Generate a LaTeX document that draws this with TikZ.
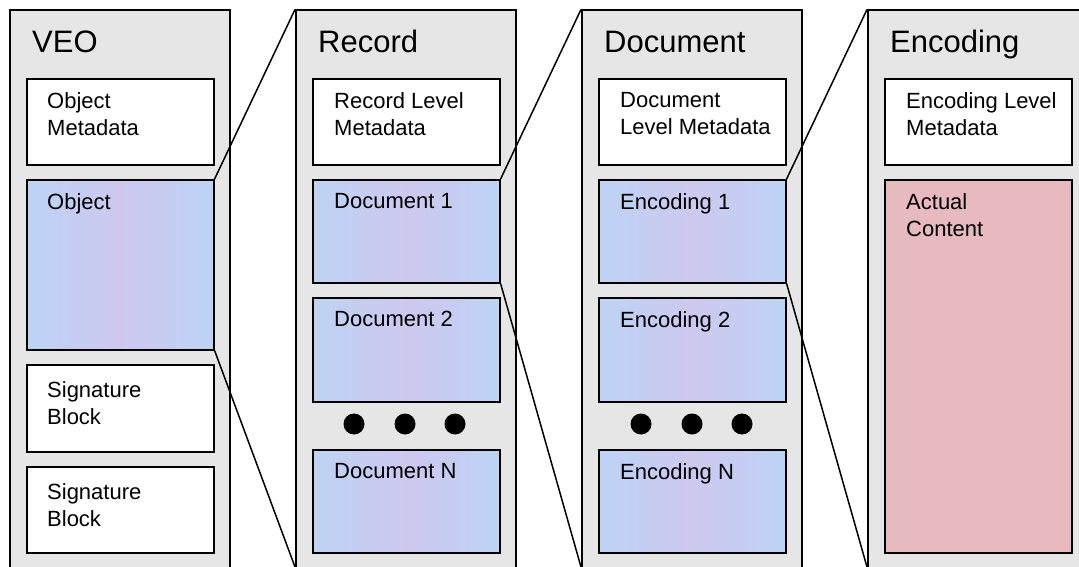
\documentclass[tikz,border=0pt]{standalone}
\usepackage{fontspec}
\setmainfont{Liberation Sans}
\definecolor{panelgray}{HTML}{E6E6E6}
\definecolor{blueA}{HTML}{BDD3F4}
\definecolor{blueB}{HTML}{CEC8EF}
\definecolor{pinkfill}{HTML}{E7BAC0}
\begin{document}
\begin{tikzpicture}[x=1pt,y=-1pt,
  panel/.style={rectangle, draw=black, line width=1.6pt, fill=panelgray, anchor=north west,
    minimum width=220pt, minimum height=600pt, inner sep=0pt},
  boxbase/.style={rectangle, draw=black, line width=1.6pt, anchor=north west,
    minimum width=187pt, inner sep=0pt},
  whitebox/.style={boxbase, fill=white},
  bluebox/.style={boxbase, left color=blueA, right color=blueA, middle color=blueB},
  pinkbox/.style={boxbase, fill=pinkfill},
  title/.style={anchor=base west, inner sep=0pt, font=\fontsize{31}{36}\selectfont},
  itemtext/.style={anchor=north west, inner sep=0pt, align=left, font=\fontsize{22}{27}\selectfont},
  dot/.style={circle, fill=black, draw=none, minimum size=21pt, inner sep=0pt},
  link/.style={draw=black, line width=1.5pt}
]
\useasboundingbox (0,0) rectangle (1079,567);
\fill[white] (0,0) rectangle (1079,567);
\clip (0,0) rectangle (1079,567);

% ---------- panels ----------
\node[panel] (veo) at (9,9.5) {};
\node[panel] (rec) at (295,9.5) {};
\node[panel] (doc) at (581,9.5) {};
\node[panel] (enc) at (867,9.5) {};

\node[title] (veoT) at (32,53) {VEO};
\node[title] (recT) at (318,53) {Record};
\node[title] (docT) at (604,53) {Document};
\node[title] (encT) at (890,53) {Encoding};

% ---------- VEO ----------
\node[whitebox, minimum height=86pt] (objmeta) at (26,78) {};
\node[bluebox, minimum height=170pt] (obj) at (26,179) {};
\node[whitebox, minimum height=87pt] (sig1) at (26,364) {};
\node[whitebox, minimum height=86pt] (sig2) at (26,466) {};
\node[itemtext] (objmetaT) at (47,92) {Object\\Metadata};
\node[itemtext] (objT) at (47,193) {Object};
\node[itemtext] (sig1T) at (47,381) {Signature\\Block};
\node[itemtext] (sig2T) at (47,483) {Signature\\Block};

% ---------- Record ----------
\node[whitebox, minimum height=86pt] (recmeta) at (312,78) {};
\node[bluebox, minimum height=103pt] (doc1) at (312,179) {};
\node[bluebox, minimum height=104pt] (doc2) at (312,297) {};
\node[bluebox, minimum height=103pt] (docN) at (312,449) {};
\node[itemtext] (recmetaT) at (334,92) {Record Level\\Metadata};
\node[itemtext] (doc1T) at (334,193) {Document 1};
\node[itemtext] (doc2T) at (334,311) {Document 2};
\node[itemtext] (docNT) at (334,463) {Document N};
\node[dot] (rd1) at (354,424) {};
\node[dot] (rd2) at (405,424) {};
\node[dot] (rd3) at (455,424) {};

% ---------- Document ----------
\node[whitebox, minimum height=86pt] (docmeta) at (598,78) {};
\node[bluebox, minimum height=103pt] (enc1) at (598,179) {};
\node[bluebox, minimum height=104pt] (enc2) at (598,297) {};
\node[bluebox, minimum height=103pt] (encN) at (598,449) {};
\node[itemtext] (docmetaT) at (620,92) {Document\\Level Metadata};
\node[itemtext] (enc1T) at (620,193) {Encoding 1};
\node[itemtext] (enc2T) at (620,311) {Encoding 2};
\node[itemtext] (encNT) at (620,463) {Encoding N};
\node[dot] (dd1) at (641,424) {};
\node[dot] (dd2) at (692,424) {};
\node[dot] (dd3) at (742,424) {};

% ---------- Encoding ----------
\node[whitebox, minimum height=86pt] (encmeta) at (884,78) {};
\node[pinkbox, minimum height=373pt] (content) at (884,179) {};
\node[itemtext] (encmetaT) at (906,92) {Encoding Level\\Metadata};
\node[itemtext] (contentT) at (906,193) {Actual\\Content};

% ---------- zoom connectors ----------
\path (rec.north west) ++(0,557.5) coordinate (recB);
\path (doc.north west) ++(0,557.5) coordinate (docB);
\path (enc.north west) ++(0,557.5) coordinate (encB);

\draw[link] (obj.north east) -- (rec.north west);
\draw[link] (obj.south east) -- (recB);
\draw[link] (doc1.north east) -- (doc.north west);
\draw[link] (doc1.south east) -- (docB);
\draw[link] (enc1.north east) -- (enc.north west);
\draw[link] (enc1.south east) -- (encB);
\end{tikzpicture}
\end{document}
